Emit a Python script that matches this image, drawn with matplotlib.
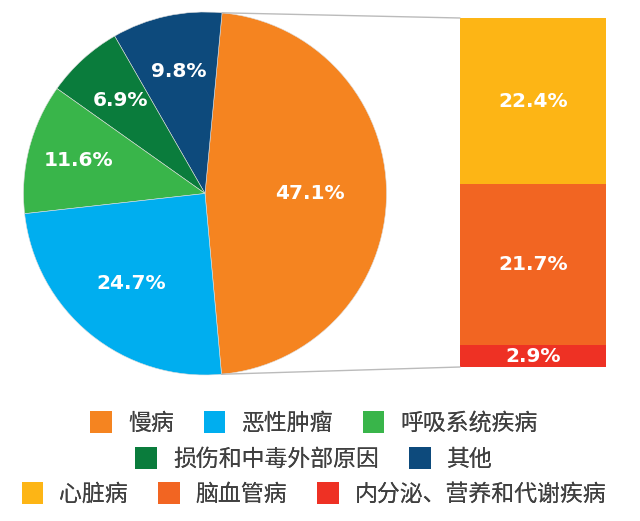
import numpy as np
import matplotlib
matplotlib.use('Agg')
import matplotlib.pyplot as plt
from matplotlib.patches import ConnectionPatch, Patch

plt.rcParams['font.family'] = ['Noto Sans CJK SC', 'DejaVu Sans']

# pie data (counterclockwise from the big slice)
pie_labels = ['慢病', '其他', '损伤和中毒外部原因', '呼吸系统疾病', '恶性肿瘤']
pie_values = [47.1, 9.8, 6.9, 11.6, 24.7]
pie_colors = ['#F58420', '#0D4A7C', '#0A7C3C', '#39B54A', '#00AEEF']

# breakdown of 慢病 (bottom to top)
bar_labels = ['内分泌、营养和代谢疾病', '脑血管病', '心脏病']
bar_values = [2.9, 21.7, 22.4]
bar_colors = ['#EE3124', '#F26522', '#FDB515']

W, H = 640, 521
fig = plt.figure(figsize=(W / 100, H / 100), dpi=100)

def px_axes(x0, y0, x1, y1):
    return fig.add_axes([x0 / W, 1 - y1 / H, (x1 - x0) / W, (y1 - y0) / H])

lbl_font = dict(color='white', fontsize=14.5, fontweight='bold', family='DejaVu Sans')

# pie
ax1 = px_axes(23, 12, 387, 375)
start = -pie_values[0] * 3.6 / 2
wedges, _, autotexts = ax1.pie(
    pie_values, colors=pie_colors, startangle=start, counterclock=True,
    autopct='%.1f%%', pctdistance=0.69, radius=1,
    wedgeprops=dict(linewidth=0.4, edgecolor='#dddddd'),
    textprops=lbl_font)
# pull some labels a bit closer to the centre
for i, r in [(0, 0.58), (3, 0.72), (4, 0.64)]:
    w = wedges[i]
    mid = np.deg2rad((w.theta1 + w.theta2) / 2)
    autotexts[i].set_position((r * np.cos(mid), r * np.sin(mid)))
ax1.set_xlim(-1, 1)
ax1.set_ylim(-1, 1)
ax1.set_aspect('equal')
ax1.axis('off')
w0 = wedges[0]

# stacked bar
ax2 = px_axes(460, 18, 606, 367)
bottom = 0
for v, c in zip(bar_values, bar_colors):
    ax2.bar(0, v, width=1, bottom=bottom, color=c, edgecolor='none')
    ax2.text(0, bottom + v / 2, f'{v:.1f}%', ha='center', va='center', **lbl_font)
    bottom += v
ax2.set_xlim(-0.5, 0.5)
ax2.set_ylim(0, sum(bar_values))
ax2.axis('off')

# connection lines
t1 = np.deg2rad(w0.theta2)
t2 = np.deg2rad(w0.theta1)
for th, yb in [(t1, sum(bar_values)), (t2, 0)]:
    con = ConnectionPatch(xyA=(-0.5, yb), coordsA=ax2.transData,
                          xyB=(np.cos(th), np.sin(th)), coordsB=ax1.transData,
                          color='#bbbbbb', linewidth=1)
    fig.add_artist(con)

# legends (three rows)
rows = [
    (['慢病', '恶性肿瘤', '呼吸系统疾病'], ['#F58420', '#00AEEF', '#39B54A'], 423),
    (['损伤和中毒外部原因', '其他'], ['#0A7C3C', '#0D4A7C'], 459),
    (['心脏病', '脑血管病', '内分泌、营养和代谢疾病'], ['#FDB515', '#F26522', '#EE3124'], 494),
]
for labels, colors, y in rows:
    handles = [Patch(facecolor=c, edgecolor='none') for c in colors]
    leg = fig.legend(handles, labels, loc='center', ncol=len(labels),
                     bbox_to_anchor=(314 / W, 1 - y / H), frameon=False,
                     fontsize=16.5, handlelength=0.95, handleheight=1.1,
                     handletextpad=0.7, columnspacing=1.3, borderpad=0,
                     labelcolor='#404040')
    fig.add_artist(leg)

fig.savefig('out.png', dpi=100)
